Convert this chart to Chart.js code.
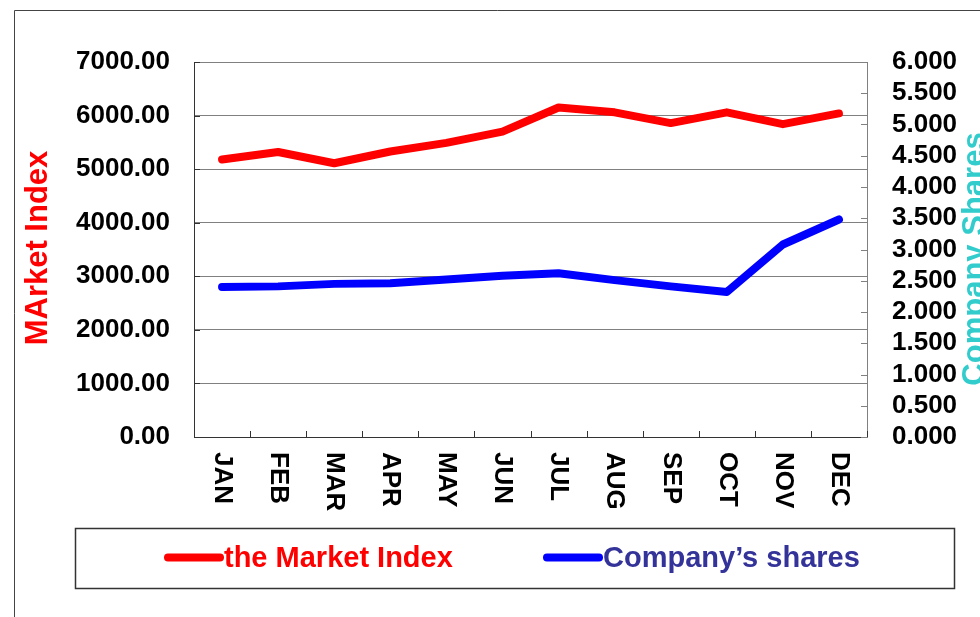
<!DOCTYPE html>
<html>
<head>
<meta charset="utf-8">
<script src="https://cdn.jsdelivr.net/npm/chart.js@4"></script>
<style>
  html, body { margin: 0; padding: 0; background: #ffffff; }
  #wrap { width: 980px; height: 617px; position: relative; }
</style>
</head>
<body>
<div id="wrap"><canvas id="myChart" width="980" height="617"></canvas></div>
<script>
const months = ['JAN', 'FEB', 'MAR', 'APR', 'MAY', 'JUN', 'JUL', 'AUG', 'SEP', 'OCT', 'NOV', 'DEC'];
const marketIndex = [5180, 5320, 5110, 5330, 5490, 5700, 6150, 6060, 5860, 6060, 5840, 6040];
const companyShares = [2.40, 2.41, 2.45, 2.46, 2.52, 2.58, 2.62, 2.51, 2.41, 2.32, 3.08, 3.48];
const leftTitle = 'MArket Index';
const rightTitle = 'Company Shares';
const seriesNames = ['the Market Index', 'Company\u2019s shares'];

const FONT = '"Liberation Sans", Arial, sans-serif';

// extra drawing: frame, inward tick marks, rotated labels, titles, legend box
const decorations = {
    id: 'decorations',
    beforeDatasetsDraw(chart) {
        const ctx = chart.ctx;
        const area = chart.chartArea;
        const y = chart.scales.y, y1 = chart.scales.y1;
        ctx.save();
        ctx.lineWidth = 1;
        ctx.strokeStyle = '#333333';
        y.ticks.forEach((t, i) => {
            const py = Math.round(y.getPixelForTick(i)) + 0.5;
            ctx.beginPath(); ctx.moveTo(area.left, py); ctx.lineTo(area.left + 6, py); ctx.stroke();
        });
        ctx.strokeStyle = '#808080';
        y1.ticks.forEach((t, i) => {
            const py = Math.round(y1.getPixelForTick(i)) + 0.5;
            ctx.beginPath(); ctx.moveTo(area.right - 6, py); ctx.lineTo(area.right, py); ctx.stroke();
        });
        ctx.strokeStyle = '#333333';
        const step = (area.right - area.left) / months.length;
        for (let i = 0; i <= months.length; i++) {
            const px = Math.round(area.left + i * step) + 0.5;
            ctx.beginPath(); ctx.moveTo(px, area.bottom - 6); ctx.lineTo(px, area.bottom); ctx.stroke();
        }
        ctx.restore();
    },
    afterDraw(chart) {
        const ctx = chart.ctx;
        const area = chart.chartArea;
        const x = chart.scales.x;
        ctx.save();

        // outer frame
        ctx.strokeStyle = '#444444';
        ctx.lineWidth = 1;
        ctx.beginPath();
        ctx.moveTo(14.5, 617); ctx.lineTo(14.5, 10.5); ctx.lineTo(980, 10.5);
        ctx.stroke();

        // month labels, reading top to bottom
        ctx.fillStyle = '#000000';
        ctx.font = 'bold 26px ' + FONT;
        ctx.textAlign = 'left';
        ctx.textBaseline = 'middle';
        months.forEach((m, i) => {
            const px = x.getPixelForValue(i);
            ctx.save();
            ctx.translate(px, area.bottom + 15);
            ctx.rotate(Math.PI / 2);
            ctx.fillText(m, 0, 0);
            ctx.restore();
        });

        // axis titles
        ctx.font = 'bold 31px ' + FONT;
        ctx.textAlign = 'center';
        ctx.textBaseline = 'middle';
        ctx.fillStyle = '#ff0000';
        ctx.save();
        ctx.translate(38, 248);
        ctx.rotate(-Math.PI / 2);
        ctx.fillText(leftTitle, 0, 0);
        ctx.restore();
        ctx.fillStyle = '#33cccc';
        ctx.save();
        ctx.translate(975, 259);
        ctx.rotate(-Math.PI / 2);
        ctx.fillText(rightTitle, 0, 0);
        ctx.restore();

        // legend box
        ctx.fillStyle = '#ffffff';
        ctx.fillRect(75, 528, 879, 60);
        ctx.strokeStyle = '#333333';
        ctx.lineWidth = 1.5;
        ctx.strokeRect(75.5, 528.5, 879, 60);

        const items = [
            { x1: 168, x2: 220, color: '#ff0000', textColor: '#ff0000', tx: 224 },
            { x1: 547, x2: 599, color: '#0000ff', textColor: '#333399', tx: 603 }
        ];
        ctx.lineCap = 'round';
        ctx.lineWidth = 8;
        items.forEach((it, i) => {
            ctx.strokeStyle = it.color;
            ctx.beginPath(); ctx.moveTo(it.x1, 557.5); ctx.lineTo(it.x2, 557.5); ctx.stroke();
            ctx.fillStyle = it.textColor;
            ctx.font = 'bold 29px ' + FONT;
            ctx.textAlign = 'left';
            ctx.textBaseline = 'alphabetic';
            ctx.fillText(seriesNames[i], it.tx, 567);
        });
        ctx.restore();
    }
};

const ctx = document.getElementById('myChart').getContext('2d');
const chart = new Chart(ctx, {
    type: 'line',
    data: {
        labels: months,
        datasets: [{
            label: seriesNames[0],
            data: marketIndex,
            yAxisID: 'y',
            borderColor: '#ff0000',
            borderWidth: 8,
            pointRadius: 0,
            tension: 0,
            borderCapStyle: 'round',
            borderJoinStyle: 'round',
            fill: false
        }, {
            label: seriesNames[1],
            data: companyShares,
            yAxisID: 'y1',
            borderColor: '#0000ff',
            borderWidth: 8,
            pointRadius: 0,
            tension: 0,
            borderCapStyle: 'round',
            borderJoinStyle: 'round',
            fill: false
        }]
    },
    options: {
        responsive: false,
        animation: false,
        devicePixelRatio: 1,
        layout: { padding: { top: 62, left: 0, right: 0, bottom: 0 } },
        plugins: {
            legend: { display: false },
            tooltip: { enabled: false }
        },
        scales: {
            x: {
                offset: true,
                grid: { display: false },
                border: { display: true, color: '#333333', width: 1 },
                ticks: { display: false },
                afterFit(scale) { scale.height = 180; }
            },
            y: {
                position: 'left',
                min: 0,
                max: 7000,
                grid: { color: '#808080', lineWidth: 1, drawTicks: false },
                border: { display: true, color: '#333333', width: 1 },
                ticks: {
                    stepSize: 1000,
                    autoSkip: false,
                    padding: 24,
                    color: '#000000',
                    font: { family: FONT, size: 26, weight: 'bold' },
                    callback: v => Number(v).toFixed(2)
                },
                afterFit(scale) { scale.width = 194; }
            },
            y1: {
                position: 'right',
                min: 0,
                max: 6,
                grid: { drawOnChartArea: false, drawTicks: false },
                border: { display: true, color: '#808080', width: 1 },
                ticks: {
                    stepSize: 0.5,
                    maxTicksLimit: 20,
                    autoSkip: false,
                    padding: 25,
                    color: '#000000',
                    font: { family: FONT, size: 26, weight: 'bold' },
                    callback: v => Number(v).toFixed(3)
                },
                afterFit(scale) { scale.width = 113; }
            }
        }
    },
    plugins: [decorations]
});
</script>
</body>
</html>
